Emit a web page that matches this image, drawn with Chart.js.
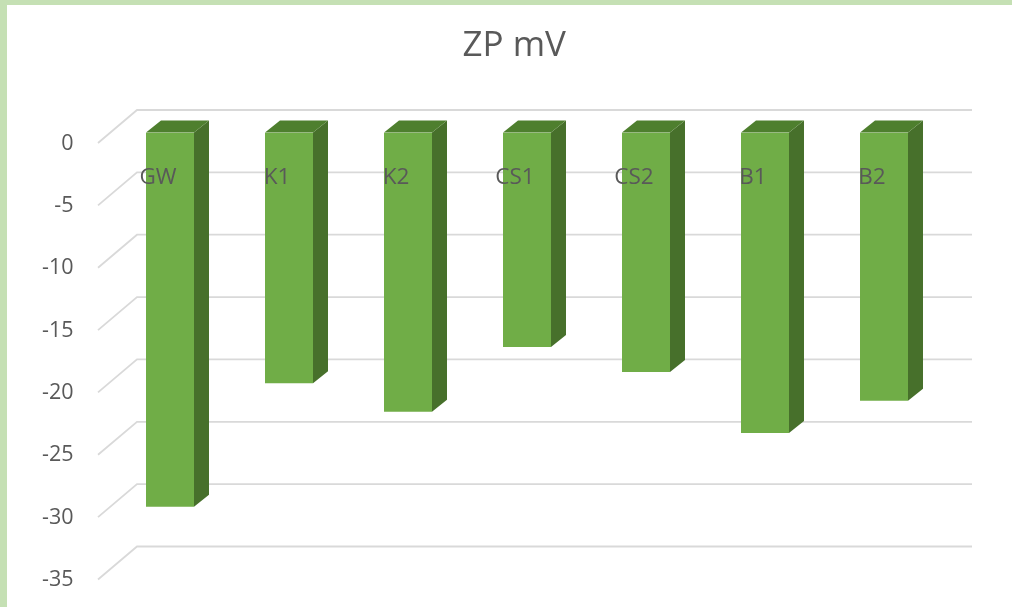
<!DOCTYPE html>
<html>
<head>
<meta charset="utf-8">
<title>ZP mV</title>
<script src="https://cdn.jsdelivr.net/npm/chart.js@4"></script>
<style>
  html, body { margin: 0; padding: 0; background: #fff; overflow: hidden; }
  #frame { position: absolute; left: 0; top: 0; width: 1012px; height: 607px; box-sizing: border-box;
           border-left: 7px solid #C5E0B4; border-top: 5px solid #C5E0B4; }
  canvas { position: absolute; left: 0; top: 0; }
</style>
</head>
<body>
<div id="frame"></div>
<canvas id="chart" width="1012" height="607"></canvas>
<script>
const categories = ['GW', 'K1', 'K2', 'CS1', 'CS2', 'B1', 'B2'];
const zpValues = [-30, -20.1, -22.4, -17.2, -19.2, -24.1, -21.5];
const axisMin = -35;
const axisMax = 0;
const axisStep = 5;

const FRONT = '#70AD47';
const SIDE = '#47702B';
const TOP = '#4E7F2E';
const GRID = '#D9D9D9';
const TEXT = '#595959';
const FONT = '"Open Sans", sans-serif';

// Bar depth and the wall/floor offsets of the pseudo-3D projection.
const BAR_DX = 15, BAR_DY = -12;
const WALL_DX = 26.5, WALL_DY = -22.5;
const FLOOR_DX = -12.5, FLOOR_DY = 10.5;
const WALL_OVERHANG = 28.5;
const TITLE_SHIFT = 27.25;

function fillPoly(ctx, color, pts) {
  ctx.fillStyle = color;
  ctx.beginPath();
  pts.forEach((p, i) => i ? ctx.lineTo(p[0], p[1]) : ctx.moveTo(p[0], p[1]));
  ctx.closePath();
  ctx.fill();
}

const projection = {
  id: 'projection',
  // The title sits over the whole drawing, walls included, not just the plot box.
  afterLayout(chart) {
    chart.titleBlock.left += TITLE_SHIFT;
    chart.titleBlock.right += TITLE_SHIFT;
  },
  // Back-wall gridlines with their diagonal side-wall strokes.
  beforeDatasetsDraw(chart) {
    const { ctx, scales: { y }, chartArea: a } = chart;
    ctx.save();
    ctx.strokeStyle = GRID;
    ctx.lineWidth = 1.8;
    y.ticks.forEach(t => {
      const py = y.getPixelForValue(t.value);
      ctx.beginPath();
      ctx.moveTo(a.left + FLOOR_DX, py + FLOOR_DY);
      ctx.lineTo(a.left + WALL_DX, py + WALL_DY);
      ctx.lineTo(a.right + WALL_OVERHANG, py + WALL_DY);
      ctx.stroke();
    });
    ctx.restore();
  },
  // Top and side faces of each bar, taken from the bar elements.
  beforeDatasetDraw(chart, args) {
    const { ctx } = chart;
    chart.getDatasetMeta(args.index).data.forEach(bar => {
      const { x, y, base, width } = bar.getProps(['x', 'y', 'base', 'width'], true);
      const l = x - width / 2, r = x + width / 2;
      fillPoly(ctx, SIDE, [[r, base], [r + BAR_DX, base + BAR_DY], [r + BAR_DX, y + BAR_DY], [r, y]]);
      fillPoly(ctx, TOP, [[l, base], [l + BAR_DX, base + BAR_DY], [r + BAR_DX, base + BAR_DY], [r, base]]);
    });
  }
};

new Chart(document.getElementById('chart'), {
  type: 'bar',
  data: {
    labels: categories,
    datasets: [{ label: 'ZP mV', data: zpValues, backgroundColor: FRONT, borderWidth: 0,
                 categoryPercentage: 1, barPercentage: 48 / 119 }]
  },
  plugins: [projection],
  options: {
    responsive: false,
    animation: false,
    layout: { padding: { left: 30.5, right: 68.5, top: 0, bottom: 38 } },
    plugins: {
      legend: { display: false },
      tooltip: { enabled: false },
      title: {
        display: true,
        text: 'ZP mV',
        color: TEXT,
        font: { family: FONT, size: 35, weight: 'normal', lineHeight: 1.2 },
        padding: { top: 25, bottom: 65.5 }
      }
    },
    scales: {
      x: {
        position: { y: 0 },
        afterFit(scale) { scale.height = 0; },
        grid: { display: false, drawTicks: false },
        border: { display: false },
        ticks: { color: TEXT, font: { family: FONT, size: 22.5 }, padding: 31.5, labelOffset: -12,
                 maxRotation: 0, autoSkip: false, z: 1 }
      },
      y: {
        min: axisMin,
        max: axisMax,
        afterFit(scale) {
          scale.width = 80;
          scale.paddingTop = 0;
          scale.paddingBottom = 0;
        },
        grid: { display: false, drawTicks: false },
        border: { display: false },
        ticks: { stepSize: axisStep, color: TEXT, font: { family: FONT, size: 21.5 }, padding: 37, labelOffset: 11 }
      }
    }
  }
});
</script>
</body>
</html>
